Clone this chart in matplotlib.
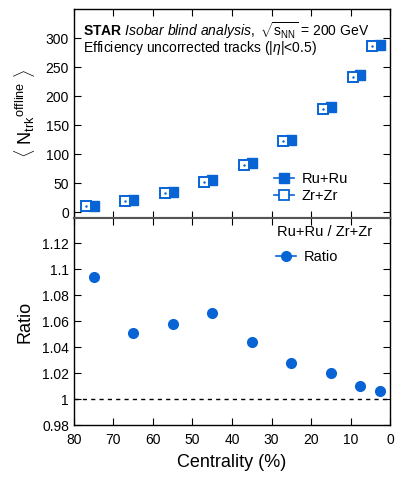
import matplotlib
matplotlib.use('Agg')
import matplotlib.pyplot as plt
from matplotlib.lines import Line2D

plt.rcParams['font.family'] = ['Liberation Sans', 'DejaVu Sans']
plt.rcParams['mathtext.fontset'] = 'custom'
plt.rcParams['mathtext.rm'] = 'Liberation Sans'
plt.rcParams['mathtext.it'] = 'Liberation Sans:italic'
plt.rcParams['mathtext.bf'] = 'Liberation Sans:bold'

# centralitaet (Mitte der Klasse, %)
centrality = [75, 65, 55, 45, 35, 25, 15, 7.5, 2.5]
ntrk_ru = [11.5, 20.8, 34.0, 55.4, 84.8, 125.0, 181.0, 235.8, 288.4]
ntrk_zr = [10.4, 19.6, 32.3, 52.4, 81.3, 122.3, 177.7, 233.6, 286.7]
ratio = [1.094, 1.051, 1.058, 1.066, 1.044, 1.028, 1.020, 1.010, 1.006]
zr_shift = 2.0  # Zr+Zr leicht versetzt gezeichnet

blue = '#0864d4'

fig = plt.figure(figsize=(4.15, 4.95), dpi=100)
ax1 = fig.add_axes([0.178, 0.5596, 0.762, 0.4222])
ax2 = fig.add_axes([0.178, 0.1414, 0.762, 0.4182])

for ax in (ax1, ax2):
    ax.set_xlim(80, 0)
    ax.set_xticks(range(0, 81, 10))
    ax.tick_params(direction='in', top=True, right=True, length=5, width=0.8,
                   labelsize=10, colors='black')
    ax.tick_params(axis='x', pad=6)
    for s in ax.spines.values():
        s.set_linewidth(1.0)

# oberes Panel
zr_x = [c + zr_shift for c in centrality]
ax1.plot(centrality, ntrk_ru, 's', color=blue, ms=7.5, mec=blue)
ax1.plot(zr_x, ntrk_zr, 's', color=blue, ms=7.5, mfc='white', mec=blue, mew=1.4)
ax1.plot(zr_x, ntrk_zr, '.', color=blue, ms=1.5)
ax1.set_ylim(-10, 350)
ax1.set_yticks(range(0, 301, 50))
ax1.tick_params(labelbottom=False)
ax1.spines['bottom'].set_color('#555555')
ax1.spines['bottom'].set_linewidth(1.5)
ax1.set_ylabel(r'$\langle$ N$_{\rm trk}$$^{\rm offline}$ $\rangle$', fontsize=13, labelpad=6)

ax1.text(0.028, 0.945,
         r'$\bf{STAR}$ $\it{Isobar\ blind\ analysis,}$ $\sqrt{\rm s_{NN}}$ = 200 GeV',
         transform=ax1.transAxes, fontsize=10, va='top')
ax1.text(0.028, 0.855, r'Efficiency uncorrected tracks (|$\eta$|<0.5)', transform=ax1.transAxes,
         fontsize=10, va='top')

h_ru = Line2D([], [], color=blue, marker='s', ms=7, lw=1.2)
h_zr = Line2D([], [], color=blue, marker='s', ms=7, mfc='white', mew=1.3, lw=1.2)
ax1.legend([h_ru, h_zr], ['Ru+Ru', 'Zr+Zr'], loc='lower right', bbox_to_anchor=(0.885, 0.045),
           frameon=False, fontsize=10.5, handlelength=1.4, handletextpad=0.5,
           labelspacing=0.2, borderaxespad=0)

# unteres Panel
ax2.plot(centrality, ratio, 'o', color=blue, ms=7)
ax2.axhline(1.0, color='black', ls=(0, (3, 3)), lw=1.0)
ax2.set_ylim(0.98, 1.1395)
ax2.set_yticks([0.98, 1.0, 1.02, 1.04, 1.06, 1.08, 1.1, 1.12])
ax2.set_yticklabels(['0.98', '1', '1.02', '1.04', '1.06', '1.08', '1.1', '1.12'])
ax2.spines['top'].set_color('#555555')
ax2.spines['top'].set_linewidth(1.5)
ax2.set_xlabel('Centrality (%)', fontsize=13, labelpad=5)
ax2.set_ylabel('Ratio', fontsize=13, labelpad=6)

ax2.text(0.943, 0.965, 'Ru+Ru / Zr+Zr', transform=ax2.transAxes, fontsize=10.5,
         va='top', ha='right')
h_r = Line2D([], [], color=blue, marker='o', ms=7, lw=1.2)
ax2.legend([h_r], ['Ratio'], loc='upper left', bbox_to_anchor=(0.62, 0.875),
           frameon=False, fontsize=10.5, handlelength=1.4, handletextpad=0.5,
           borderaxespad=0)

fig.savefig('out.png', dpi=100)
